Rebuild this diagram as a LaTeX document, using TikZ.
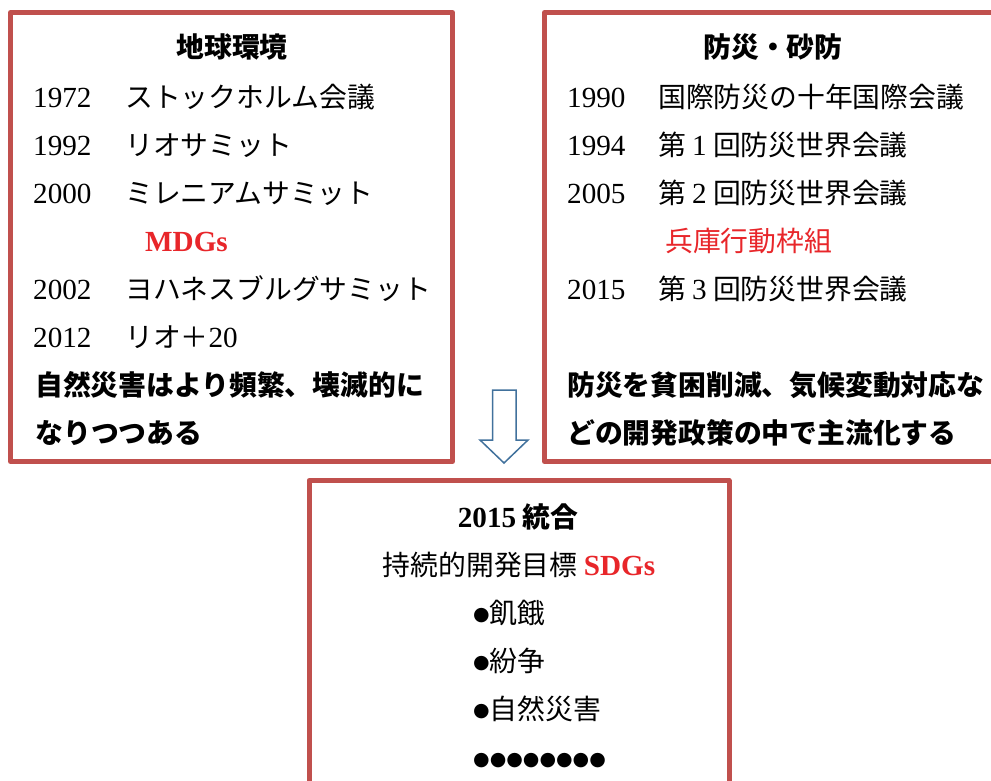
\documentclass[tikz,border=0pt]{standalone}
\usepackage{fontspec}
\setmainfont{Liberation Serif}[Scale=1.08]
\newfontfamily\jp{Noto Sans CJK JP}[Scale=1.03]
\newfontfamily\dv{DejaVu Sans}
\definecolor{boxred}{HTML}{C0504D}
\definecolor{txtred}{HTML}{E8262A}
\definecolor{arrowblue}{HTML}{41719C}
\newcommand{\bul}{\raisebox{2.5pt}{\dv\fontsize{19}{19}\selectfont ●}}
\begin{document}
\begin{tikzpicture}[x=1pt,y=-1pt,
  frame/.style={draw=boxred,line width=5pt,line join=round},
  txt/.style={anchor=base west,inner sep=0pt,font=\fontsize{27}{27}\selectfont\jp},
  ctxt/.style={anchor=base,inner sep=0pt,font=\fontsize{27}{27}\selectfont\jp},
  yr/.style={anchor=base west,inner sep=0pt,font=\fontsize{27}{27}\selectfont\rmfamily},
  hd/.style={anchor=base,inner sep=0pt,font=\fontsize{27}{27}\selectfont\jp\bfseries},
  bd/.style={anchor=base west,inner sep=0pt,font=\fontsize{27}{27}\selectfont\jp\bfseries},
  red/.style={text=txtred,font=\fontsize{27}{27}\selectfont\bfseries}]
\useasboundingbox (0,0) rectangle (991,780);
\fill[white] (0,0) rectangle (991,780);
% frames
\draw[frame] (10.5,12.5) rectangle (452.5,461.5);
\draw[frame] (544.5,12.5) rectangle (1000,461.5);
\draw[frame] (309,480.5) rectangle (729,800);
% arrow
\draw[arrowblue,line width=1.5pt,line join=miter] (492.7,390) -- (516,390) -- (516,440) -- (528,440) -- (504,463) -- (480,440) -- (492.7,440) -- cycle;
% left box
\node[hd] (lt) at (232,57) {地球環境};
\node[yr] (ly1) at (33,107) {1972};
\node[txt] (lx1) at (125,107) {ストックホルム会議};
\node[yr] (ly2) at (33,155) {1992};
\node[txt] (lx2) at (125,155) {リオサミット};
\node[yr] (ly3) at (33,203) {2000};
\node[txt] (lx3) at (125,203) {ミレニアムサミット};
\node[anchor=base west,inner sep=0pt,red] (lm) at (145,251) {MDGs};
\node[yr] (ly4) at (33,299) {2002};
\node[txt] (lx4) at (125,299) {ヨハネスブルグサミット};
\node[yr] (ly5) at (33,347) {2012};
\node[txt] (lx5) at (125,347) {リオ＋{\rmfamily 20}};
\node[bd] (lb1) at (35,395) {自然災害はより頻繁、壊滅的に};
\node[bd] (lb2) at (35,443) {なりつつある};
% right box
\node[hd] (rt) at (773,57) {防災・砂防};
\node[yr] (ry1) at (567,107) {1990};
\node[txt] (rx1) at (658,107) {国際防災の十年国際会議};
\node[yr] (ry2) at (567,155) {1994};
\node[txt] (rx2) at (658,155) {第 {\rmfamily 1} 回防災世界会議};
\node[yr] (ry3) at (567,203) {2005};
\node[txt] (rx3) at (658,203) {第 {\rmfamily 2} 回防災世界会議};
\node[txt,text=txtred] (rh) at (665,251) {兵庫行動枠組};
\node[yr] (ry4) at (567,299) {2015};
\node[txt] (rx4) at (658,299) {第 {\rmfamily 3} 回防災世界会議};
\node[bd] (rb1) at (567,395) {防災を貧困削減、気候変動対応な};
\node[bd] (rb2) at (567,443) {どの開発政策の中で主流化する};
% bottom box
\node[hd] (bt) at (518,527) {{\rmfamily\bfseries 2015} 統合};
\node[ctxt] (bs) at (519,575) {持続的開発目標 {\rmfamily\bfseries\color{txtred}SDGs}};
\node[txt] (b1) at (473,623) {\bul 飢餓};
\node[txt] (b2) at (473,671) {\bul 紛争};
\node[txt] (b3) at (473,719) {\bul 自然災害};
\node[txt] (b4) at (473,768) {\bul\bul\bul\bul\bul\bul\bul\bul};
\end{tikzpicture}
\end{document}
